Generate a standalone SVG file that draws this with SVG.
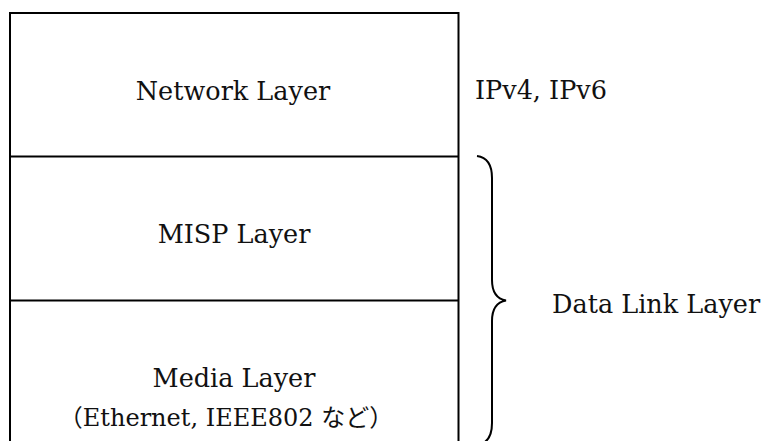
<svg xmlns="http://www.w3.org/2000/svg" width="768" height="441" viewBox="0 0 768 441">
  <style>
    .line { fill: none; stroke: #000; stroke-width: 2; }
    .label { font-family: "DejaVu Serif", "Liberation Serif", "Noto Sans CJK JP", serif; font-size: 25.5px; fill: #111; }
    .small { font-size: 24px; }
    .mid { text-anchor: middle; }
  </style>
  <rect width="768" height="441" fill="#fff"/>

  <!-- Layer stack: outer frame open at the bottom -->
  <g id="frame">
    <path class="line" d="M10,450 L10,13 L458.5,13 L458.5,450"/>
  </g>

  <g id="network-layer">
    <text class="label mid" x="233" y="100">Network Layer</text>
  </g>

  <g id="misp-layer">
    <line class="line" x1="10" y1="156.5" x2="458.5" y2="156.5"/>
    <text class="label mid" x="234" y="243">MISP Layer</text>
  </g>

  <g id="media-layer">
    <line class="line" x1="10" y1="300.5" x2="458.5" y2="300.5"/>
    <text class="label mid" x="234" y="387">Media Layer</text>
    <text class="label small mid" x="226" y="426">（Ethernet, IEEE802 など）</text>
  </g>

  <g id="ip-note">
    <text class="label" x="475" y="99">IPv4, IPv6</text>
  </g>

  <!-- Brace grouping the MISP and media layers -->
  <g id="connectors">
    <path class="line" d="M477,156 Q492,158 492,178 L492,280 Q492,298 506,300.5 Q492,303 492,321 L492,423 Q492,443 477,445"/>
  </g>

  <g id="data-link-label">
    <text class="label" x="552" y="313">Data Link Layer</text>
  </g>
</svg>
